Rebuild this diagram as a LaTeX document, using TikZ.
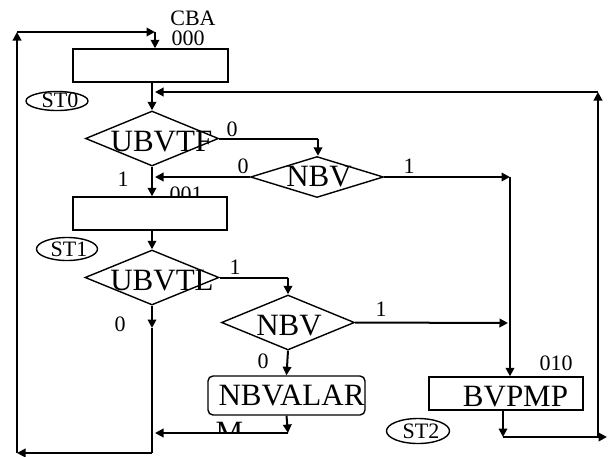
\documentclass[tikz,border=0pt]{standalone}
\usepackage{fontspec}
\setmainfont{Liberation Serif}
\usetikzlibrary{arrows.meta,shapes.geometric}
\tikzset{
  big/.style={font=\fontsize{31}{33}\selectfont, inner sep=0pt},
  small/.style={font=\fontsize{22}{24}\selectfont, inner sep=0pt},
  sbox/.style={draw, line width=1.4pt, fill=white, inner sep=0pt},
  dia/.style={draw, diamond, line width=1.4pt, inner sep=0pt},
  oval/.style={draw, ellipse, line width=1.4pt, inner sep=0pt},
  conn/.style={line width=2pt},
  arr/.style={line width=2pt, -{Triangle[length=8.5pt,width=8.5pt]}},
}
\begin{document}
\begin{tikzpicture}[x=1pt,y=-1pt]
\useasboundingbox (0,0) rectangle (608,456);
% labels that are partly covered
\node[small] (l001) at (186,194) {001};
% boxes
\node[sbox, minimum width=155pt, minimum height=33pt] (box0) at (150.5,65.5) {};
\node[sbox, minimum width=154pt, minimum height=33pt] (box1) at (150,213.5) {};
\node[sbox, rounded corners=5pt, minimum width=157pt, minimum height=39pt] (box2) at (286.5,395.5) {};
\node[sbox, minimum width=154pt, minimum height=33pt] (box3) at (506,393.5) {};
% diamonds
\node[dia, minimum width=133pt, minimum height=55pt] (d1) at (152,138.5) {};
\node[dia, minimum width=133pt, minimum height=41pt] (d2) at (317,177) {};
\node[dia, minimum width=134pt, minimum height=55pt] (d3) at (152,277.5) {};
\node[dia, minimum width=133pt, minimum height=55pt] (d4) at (288,322.5) {};
% ellipses
\node[oval, minimum width=62pt, minimum height=19pt] (e0) at (57,101) {};
\node[oval, minimum width=61pt, minimum height=23pt] (e1) at (67,249) {};
\node[oval, minimum width=63pt, minimum height=25pt] (e2) at (418,431) {};
% texts
\node[big] (t1) at (161.5,142) {UBVTF};
\node[big] (t2) at (319,177) {NBV};
\node[big] (t3) at (162,281) {UBVTL};
\node[big] (t4) at (289,326) {NBV};
\node[big] (t5) at (291.5,395) {NBVALAR};
\node[big] (t6) at (515.5,396.5) {BVPMP};
\begin{scope}
\clip (200,400) rectangle (270,433);
\node[big] (tM) at (229.5,432.5) {M};
\end{scope}
\node[small] (s0) at (60,100.5) {ST0};
\node[small] (s1) at (69,249) {ST1};
\node[small] (s2) at (421,431) {ST2};
\node[small] (cba) at (193,18) {CBA};
\node[small] (l000) at (188,38.5) {000};
\node[small] (l010) at (556,363) {010};
\node[small] (a1) at (232,129.5) {0};
\node[small] (a2) at (243,166) {0};
\node[small] (a3) at (123,179) {1};
\node[small] (a4) at (409,166) {1};
\node[small] (a5) at (235,267) {1};
\node[small] (a6) at (381,309) {1};
\node[small] (a7) at (120,324) {0};
\node[small] (a8) at (263,361) {0};
% junction coordinates
\coordinate (c1) at (152,328);
\coordinate (c2) at (152,453);
\coordinate (c3) at (17,453);
\coordinate (c4) at (17,32);
\coordinate (c5) at (155,32);
\coordinate (r1) at (598,437);
\coordinate (r2) at (598,92);
\coordinate (r3) at (155,92);
\coordinate (u1) at (318,137);
\coordinate (u2) at (155,177);
\coordinate (u3) at (510,177);
\coordinate (v1) at (288,277);
\coordinate (v2) at (508,323);
\coordinate (w1) at (288,433);
\coordinate (w2) at (155,433);
\coordinate (z1) at (503,437);
\coordinate (z2) at (607,437);
% connectors
\draw[arr] (d3.south) -- (c1);
\draw[conn] (c1) -- (c2);
\draw[arr] (c2) -- (c3);
\draw[arr] (c3) -- (c4);
\draw[arr] (c4) -- (c5);
\draw[arr] (c5) -- (c5 |- box0.north);
\draw[arr] (box0.south -| d1.north) -- (d1.north);
\draw[arr] (r1) -- (r2);
\draw[arr] (r2) -- (r3);
\draw[conn] (d1.east) -- (d1.east -| u1);
\draw[arr] (d1.east -| u1) -- (u1 |- d2.north);
\draw[arr] (d2.west) -- (u2);
\draw[arr] (d1.south) -- (box1.north -| d1.south);
\draw[arr] (d2.east) -- (u3);
\draw[arr] (u3) -- (u3 |- box3.north);
\draw[arr] (box1.south -| d3.north) -- (d3.north);
\draw[conn] (d3.east) -- (d3.east -| v1);
\draw[arr] (d3.east -| v1) -- (d4.north);
\draw[arr] (d4.east) -- (v2);
\draw[arr] (d4.south) -- (box2.north);
\draw[arr] (box2.south) -- (w1);
\draw[arr] (w1) -- (w2);
\draw[arr] (box3.south -| z1) -- (z1);
\draw[arr] (z1) -- (z2);
\end{tikzpicture}
\end{document}
